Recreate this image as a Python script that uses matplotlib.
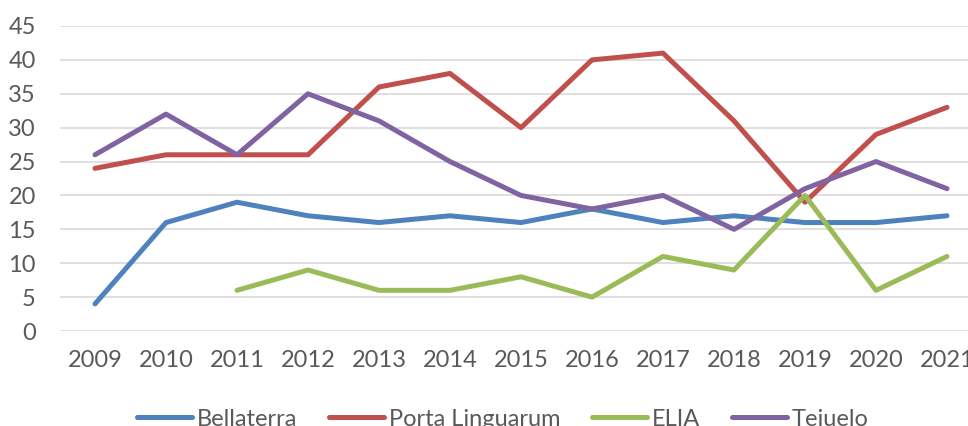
import numpy as np
import matplotlib.pyplot as plt

years = ['2009', '2010', '2011', '2012', '2013', '2014', '2015',
         '2016', '2017', '2018', '2019', '2020', '2021']

bellaterra = [4, 16, 19, 17, 16, 17, 16, 18, 16, 17, 16, 16, 17]
porta = [24, 26, 26, 26, 36, 38, 30, 40, 41, 31, 19, 29, 33]
elia = [np.nan, np.nan, 6, 9, 6, 6, 8, 5, 11, 9, 20, 6, 11]
tejuelo = [26, 32, 26, 35, 31, 25, 20, 18, 20, 15, 21, 25, 21]

series = [
    ('Bellaterra', bellaterra, '#4F81BD'),
    ('Porta Linguarum', porta, '#C0504D'),
    ('ELIA', elia, '#9BBB59'),
    ('Tejuelo', tejuelo, '#8064A2'),
]

plt.rcParams['font.family'] = ['Lato', 'DejaVu Sans']
txt = '#595959'

fig = plt.figure(figsize=(9.68, 4.26), dpi=100)
W, H = 968, 426
ax = fig.add_axes([59.5 / W, (H - 331) / H, 923 / W, 305 / H])

x = np.arange(len(years))
for name, vals, col in series:
    ax.plot(x, vals, color=col, lw=3.6, label=name,
            solid_capstyle='round', solid_joinstyle='round')

ax.set_xlim(-0.5, len(years) - 0.5)
ax.set_ylim(0, 45)
ax.set_yticks(range(0, 46, 5))
ax.set_xticks(x)
ax.set_xticklabels(years)
ax.tick_params(axis='both', length=0, labelsize=17, colors=txt)
ax.tick_params(axis='x', pad=14)
ax.tick_params(axis='y', pad=17)
ax.grid(axis='y', color='#D9D9D9', lw=1.2)
ax.set_axisbelow(True)
for s in ax.spines.values():
    s.set_visible(False)

fig.legend(loc='center', bbox_to_anchor=(503 / W, 7 / H), ncol=4,
           frameon=False, fontsize=17, labelcolor=txt,
           handlelength=2.33, handletextpad=0.2, columnspacing=1.35)

fig.savefig('out.png', dpi=100)
